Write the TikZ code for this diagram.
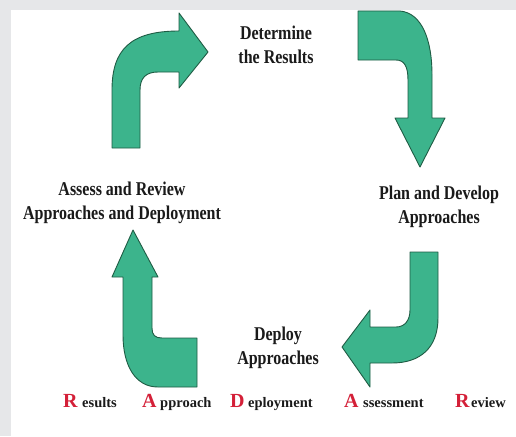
\documentclass[tikz,border=0pt]{standalone}
\usepackage{fontspec}
\setmainfont{Liberation Serif}
\newfontfamily\lblfont{Liberation Serif}[FakeStretch=0.82]
\definecolor{arrowfill}{HTML}{3CB48C}
\definecolor{arrowline}{HTML}{1F5C44}
\definecolor{bgframe}{HTML}{E6E7E9}
\definecolor{redletter}{HTML}{D42038}
\definecolor{textdark}{HTML}{1A1A1A}
\begin{document}
\begin{tikzpicture}[x=1pt,y=-1pt,
  bigarrow/.style={fill=arrowfill, draw=arrowline, line width=0.9pt, line join=round},
  lbl/.style={font=\lblfont\bfseries\fontsize{19.5}{23.5}\selectfont, align=center, inner sep=0pt, text=textdark},
  capletter/.style={font=\bfseries\fontsize{20}{20}\selectfont, text=redletter, anchor=base west, inner sep=0pt},
  restword/.style={font=\bfseries\fontsize{14.5}{15}\selectfont, text=textdark, anchor=base west, inner sep=0pt}]
\useasboundingbox (0,0) rectangle (516,436);
\fill[bgframe] (0,0) rectangle (516,436);
\fill[white] (11,10) rectangle (516,436);

% arrow: Assess -> Determine (top left)
\path[bigarrow] (112,148) -- (140,148) -- (140,90)
  .. controls (140,78) and (146,72) .. (158,72) -- (179,72) -- (179,88)
  -- (208,52) -- (179,13) -- (179,31)
  .. controls (130,31) and (112,50) .. (112,90) -- cycle;

% arrow: Determine -> Plan (top right)
\path[bigarrow] (358,11) -- (400,11)
  .. controls (422,13) and (432,40) .. (432,75) -- (432,118) -- (445,118)
  -- (420,167) -- (395,118) -- (408,118) -- (408,80)
  .. controls (408,66) and (404,60) .. (396,60) -- (358,60) -- cycle;

% arrow: Plan -> Deploy (bottom right)
\path[bigarrow] (410,252) -- (438,252) -- (438,318)
  .. controls (438,348) and (420,363) .. (392,363) -- (370,363) -- (370,387)
  -- (342,347) -- (370,310) -- (370,327) -- (396,327)
  .. controls (405,327) and (410,320) .. (410,310) -- cycle;

% arrow: Deploy -> Assess (bottom left)
\path[bigarrow] (133,230) -- (158,277) -- (152,277) -- (152,328)
  .. controls (152,335) and (155,338) .. (162,338) -- (197,338) -- (197,387)
  -- (158,387) .. controls (135,387) and (123,365) .. (123,335)
  -- (123,277) -- (112,277) -- cycle;

\node[lbl] (det) at (276,45) {Determine\\the Results};
\node[lbl] (plan) at (439,207) {Plan and Develop\\Approaches};
\node[lbl] (dep) at (278,348) {Deploy\\Approaches};
\node[lbl] (ass) at (122,203) {Assess and Review\\Approaches and Deployment};

\node[capletter] (r1) at (63,407) {R};
\node[restword] (w1) at (82,407) {esults};
\node[capletter] (a1) at (142,407) {A};
\node[restword] (w2) at (160,407) {pproach};
\node[capletter] (d1) at (230,407) {D};
\node[restword] (w3) at (248,407) {eployment};
\node[capletter] (a2) at (344,407) {A};
\node[restword] (w4) at (363,407) {ssessment};
\node[capletter] (r2) at (455,407) {R};
\node[restword] (w5) at (471,407) {eview};
\end{tikzpicture}
\end{document}
